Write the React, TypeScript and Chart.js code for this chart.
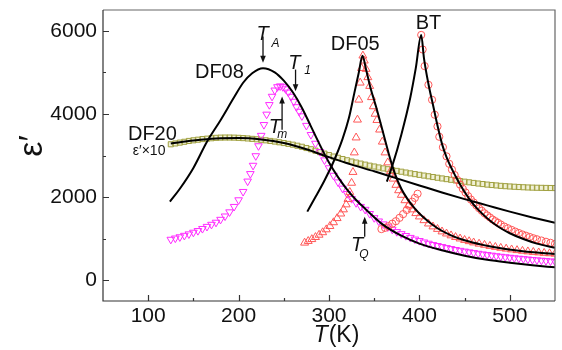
import { useEffect, useRef } from "react";
import { Chart, registerables } from "chart.js";

Chart.register(...registerables);

// ---------- axes ----------
const xTicks = [100, 200, 300, 400, 500];
const xMinor = [150, 250, 350, 450];
const yTicks = [0, 2000, 4000, 6000];
const yMinor = [1000, 3000, 5000];

// ---------- DF20 (olive squares, ε'×10) ----------
const df20T = [125,130,135,140,145,150,155,160,165,170,175,180,185,190,195,200,205,210,215,220,225,230,235,240,245,250,255,260,265,270,275,280,285,290,295,300,305,310,315,320,325,330,335,340,345,350,355,360,365,370,375,380,385,390,395,400,405,410,415,420,425,430,435,440,445,450,455,460,465,470,475,480,485,490,495,500,505,510,515,520,525,530,535,540,545,550];
const df20E = [3270,3290,3310,3330,3350,3365,3380,3395,3405,3415,3425,3430,3432,3432,3430,3425,3418,3410,3400,3390,3378,3365,3350,3335,3318,3300,3280,3260,3235,3210,3180,3150,3115,3080,3045,3010,2975,2945,2915,2885,2855,2830,2805,2780,2755,2735,2712,2690,2670,2650,2630,2610,2590,2570,2552,2535,2517,2500,2482,2465,2448,2432,2416,2400,2385,2370,2355,2340,2326,2313,2300,2290,2280,2270,2262,2255,2248,2242,2236,2231,2227,2224,2222,2220,2218,2217];
const df20FitT = [125,150,175,200,225,250,275,300,325,350,375,400,425,450,475,500,525,550];
const df20FitE = [3290,3360,3410,3420,3385,3300,3150,2960,2780,2620,2450,2280,2110,1950,1800,1650,1510,1380];

// ---------- DF08 (magenta down-triangles) ----------
const df08T = [125,130,135,140,145,150,155,160,165,170,175,180,185,190,195,200,205,210,213,216,219,222,225,228,231,234,237,240,243,246,249,252,255,258,261,264,267,270,275,280,285,290,295,300,305,310,315,320,325,330,335,340,345,350,355,360,365,370,375,380,385,390,395,400,405,410,415,420,425,430,435,440,445,450,455,460,465,470,475,480,485,490,495,500,505,510,515,520,525,530,535,540,545,550];
const df08E = [980,1010,1040,1075,1110,1150,1190,1240,1290,1340,1390,1460,1540,1640,1770,1930,2130,2380,2560,2760,2990,3230,3480,3740,3990,4220,4420,4570,4650,4670,4650,4600,4520,4420,4300,4170,4060,3950,3720,3500,3290,3090,2890,2700,2520,2360,2210,2080,1960,1860,1770,1700,1600,1500,1420,1350,1280,1220,1165,1115,1070,1025,985,950,915,885,855,830,805,780,757,734,714,695,677,660,643,627,612,598,584,571,559,547,535,524,514,504,494,485,476,467,458,450];
const df08FitT = [124,135,150,165,180,195,205,215,227,240,250,260,270,280,290,300,310,320,330,340,360,380,400,425,450,475,500,525,550];
const df08FitE = [1890,2200,2700,3330,3850,4400,4750,4980,5100,5000,4800,4520,4150,3700,3250,2830,2480,2180,1930,1720,1330,1070,880,720,590,490,420,360,310];

// ---------- DF05 (red up-triangles) ----------
const df05T = [273,277,281,285,289,293,297,301,305,309,313,316,319,321,323,325,326.5,328,330,331.5,333,334.5,336,337.5,339,341,343,345,347,349,351,353,356,359,362,365,368,371,374,377,380,384,388,392,396,400,405,410,415,420,425,430,435,440,445,450,455,460,466,472,478,484,490,496,502,508,514,520,526,532,538,544,550];
const df05E = [900,940,985,1035,1090,1150,1220,1300,1390,1490,1600,1700,1820,1950,2120,2340,2600,3070,3430,3860,4340,4750,5100,5400,5280,5080,4880,4670,4400,4180,4000,3850,3620,3330,3070,2830,2620,2440,2290,2160,2050,1920,1800,1700,1610,1530,1440,1360,1290,1230,1170,1120,1075,1035,1000,965,935,905,875,848,822,798,776,756,737,720,704,690,677,665,654,644,635];
const df05FitT = [276,285,295,305,315,322,328,333,337,341,346,352,359,366,373,380,386,395,405,420,435,450,470,490,510,530,550];
const df05FitE = [1650,2000,2400,2850,3400,3900,4500,5000,5400,5070,4620,4180,3620,3050,2560,2200,1980,1720,1500,1250,1080,960,850,770,710,665,630];

// ---------- BT (red circles) ----------
const btT = [358,362,366,370,374,378,382,386,389,392,395,398,402,403.6,405.8,410,414,417,420,422,426,430,433,436,439,442,445,448,451,454,457,460,463,466,469,472,475,478,481,484,487,490,494,498,502,506,510,514,518,522,526,530,535,540,545,550];
const btE = [1230,1260,1300,1360,1420,1500,1590,1690,1790,1890,1980,2080,5900,5550,5150,4700,4340,3980,3700,3450,3200,2980,2800,2660,2530,2410,2300,2200,2110,2020,1940,1870,1800,1730,1670,1610,1560,1510,1460,1420,1380,1340,1290,1250,1210,1170,1135,1100,1070,1040,1010,985,955,925,900,875];
const btFitT = [364,370,380,390,396,402,405,410,415,420,425,430,440,450,460,470,480,490,500,515,530,550];
const btFitE = [2370,2750,3500,4400,5100,5900,5350,4720,4220,3720,3280,2960,2500,2120,1820,1590,1400,1250,1130,990,880,780];

// ---------- annotations (data units) ----------
const seriesLabels = [
  { text: "DF08", T: 151.7, eps: 4875, size: 20 },
  { text: "DF05", T: 302, eps: 5549, size: 20 },
  { text: "BT", T: 396, eps: 6031, size: 20 },
  { text: "DF20", T: 77.6, eps: 3381, size: 20 },
  { text: "ε′×10", T: 83, eps: 3019, size: 14 },
];
// arrows: x position (T), tail eps, head eps, label with subscript
const arrowMarks = [
  { sub: "A", T: 227, from: 5860, to: 5230, labelEps: 5790, dx: -0.5, subDx: 4, subDy: 7 },
  { sub: "1", T: 263, from: 5067, to: 4545, labelEps: 5090, dx: -1.2, subDx: 5, subDy: 5 },
  { sub: "m", T: 248.1, from: 3622, to: 4417, labelEps: 3550, dx: -7.3, subDx: -2.5, subDy: 5 },
  { sub: "Q", T: 339.5, from: 1043, to: 1525, labelEps: 709, dx: -7.5, subDx: -3, subDy: 7 },
];

const pts = (t: number[], e: number[]) => t.map((v, i) => ({ x: v, y: e[i] }));

const FONT = "'Liberation Sans', Arial, sans-serif";

const overlay = {
  id: "overlay",
  afterDraw(chart: any) {
    const { ctx, chartArea: a } = chart;
    const x = chart.scales.x;
    const y = chart.scales.y;
    ctx.save();
    // frame
    ctx.lineWidth = 1.2;
    ctx.strokeStyle = "#666";
    ctx.beginPath();
    ctx.moveTo(a.left, a.top); ctx.lineTo(a.right, a.top); ctx.lineTo(a.right, a.bottom);
    ctx.stroke();
    ctx.strokeStyle = "#333";
    ctx.beginPath();
    ctx.moveTo(a.left, a.top); ctx.lineTo(a.left, a.bottom); ctx.lineTo(a.right, a.bottom);
    ctx.stroke();
    // inside ticks
    ctx.beginPath();
    for (const v of xTicks) {
      const px = Math.round(x.getPixelForValue(v)) + 0.5;
      ctx.moveTo(px, a.bottom); ctx.lineTo(px, a.bottom - 6);
    }
    for (const v of xMinor) {
      const px = Math.round(x.getPixelForValue(v)) + 0.5;
      ctx.moveTo(px, a.bottom); ctx.lineTo(px, a.bottom - 3);
    }
    for (const v of yTicks) {
      const py = Math.round(y.getPixelForValue(v)) + 0.5;
      ctx.moveTo(a.left, py); ctx.lineTo(a.left + 6, py);
    }
    for (const v of yMinor) {
      const py = Math.round(y.getPixelForValue(v)) + 0.5;
      ctx.moveTo(a.left, py); ctx.lineTo(a.left + 3, py);
    }
    ctx.stroke();

    ctx.fillStyle = "#111";
    ctx.textBaseline = "alphabetic";
    // series labels
    for (const l of seriesLabels) {
      ctx.font = `${l.size}px ${FONT}`;
      ctx.textAlign = "left";
      ctx.fillText(l.text, x.getPixelForValue(l.T), y.getPixelForValue(l.eps));
    }
    // arrows with T_x labels
    ctx.strokeStyle = "#111";
    ctx.lineWidth = 1.3;
    for (const m of arrowMarks) {
      const px = x.getPixelForValue(m.T);
      const p0 = y.getPixelForValue(m.from);
      const p1 = y.getPixelForValue(m.to);
      const dir = p1 > p0 ? 1 : -1;
      ctx.beginPath();
      ctx.moveTo(px, p0);
      ctx.lineTo(px, p1 - dir * 5);
      ctx.stroke();
      ctx.beginPath();
      ctx.moveTo(px, p1);
      ctx.lineTo(px - 2.8, p1 - dir * 7);
      ctx.lineTo(px + 2.8, p1 - dir * 7);
      ctx.closePath();
      ctx.fill();
      const ly = y.getPixelForValue(m.labelEps);
      ctx.font = `italic 20px ${FONT}`;
      ctx.textAlign = "center";
      const tx = px + m.dx;
      ctx.fillText("T", tx, ly);
      ctx.font = `italic 12px ${FONT}`;
      ctx.textAlign = "left";
      ctx.fillText(m.sub, tx + 5 + m.subDx, ly + m.subDy);
    }
    // x title: T(K)
    const cx = (a.left + a.right) / 2 + 7;
    ctx.font = `italic 23px ${FONT}`;
    const wT = ctx.measureText("T").width;
    ctx.font = `23px ${FONT}`;
    const wK = ctx.measureText("(K)").width;
    const sx = cx - (wT + wK) / 2;
    ctx.textAlign = "left";
    ctx.font = `italic 23px ${FONT}`;
    ctx.fillText("T", sx, a.bottom + 41);
    ctx.font = `23px ${FONT}`;
    ctx.fillText("(K)", sx + wT + 1, a.bottom + 41);
    // y title
    ctx.translate(a.left - 70, a.top + 136);
    ctx.rotate(-Math.PI / 2);
    ctx.font = `34px ${FONT}`;
    ctx.textAlign = "center";
    ctx.textBaseline = "middle";
    ctx.fillText("ε′", 0, 0);
    ctx.restore();
  },
};

export default function App() {
  const ref = useRef<HTMLCanvasElement | null>(null);
  useEffect(() => {
    if (!ref.current) return;
    const red = "#ff5757";
    const line = (t: number[], e: number[]) => ({
      data: pts(t, e),
      showLine: true,
      borderColor: "#000",
      borderWidth: 2,
      pointRadius: 0,
      cubicInterpolationMode: "monotone" as const,
      fill: false,
    });
    const chart = new Chart(ref.current, {
      type: "scatter",
      data: {
        datasets: [
          line(df08FitT, df08FitE),
          line(df05FitT, df05FitE),
          line(btFitT, btFitE),
          line(df20FitT, df20FitE),
          {
            data: pts(btT, btE),
            pointStyle: "circle",
            pointRadius: 3.6,
            borderWidth: 1,
            borderColor: red,
            backgroundColor: "rgba(255,255,255,0)",
          },
          {
            data: pts(df05T, df05E),
            pointStyle: "triangle",
            pointRadius: 4.6,
            borderWidth: 1,
            borderColor: red,
            backgroundColor: "rgba(255,255,255,0)",
          },
          {
            data: pts(df08T, df08E),
            pointStyle: "triangle",
            rotation: 180,
            pointRadius: 4.4,
            borderWidth: 1,
            borderColor: "#ff2bff",
            backgroundColor: "rgba(255,255,255,0)",
          },
          {
            data: pts(df20T, df20E),
            pointStyle: "rect",
            pointRadius: 3.6,
            borderWidth: 1,
            borderColor: "#a0a040",
            backgroundColor: "rgba(215,215,140,0.35)",
          },
        ],
      },
      options: {
        animation: false,
        responsive: true,
        maintainAspectRatio: false,
        events: [],
        layout: { padding: { top: 10, right: 7, left: 0, bottom: 0 } },
        plugins: { legend: { display: false }, tooltip: { enabled: false } },
        scales: {
          x: {
            type: "linear",
            min: 50,
            max: 550,
            grid: { display: false, drawTicks: false },
            border: { display: false },
            afterBuildTicks: (s: any) => { s.ticks = xTicks.map((v) => ({ value: v })); },
            afterFit: (s: any) => { s.height = 49; s.paddingLeft = 0; s.paddingRight = 0; },
            ticks: {
              padding: 3,
              maxRotation: 0,
              autoSkip: false,
              color: "#111",
              font: { family: FONT, size: 21 },
              callback: (v: any) => String(v),
            },
          },
          y: {
            type: "linear",
            min: -500,
            max: 6500,
            grid: { display: false, drawTicks: false },
            border: { display: false },
            afterBuildTicks: (s: any) => { s.ticks = yTicks.map((v) => ({ value: v })); },
            afterFit: (s: any) => { s.width = 103; s.paddingTop = 0; s.paddingBottom = 0; },
            ticks: {
              padding: 6,
              autoSkip: false,
              color: "#111",
              font: { family: FONT, size: 21 },
              callback: (v: any) => String(v),
            },
          },
        },
      },
      plugins: [overlay],
    });
    return () => chart.destroy();
  }, []);
  return (
    <div style={{ position: "fixed", left: 0, top: 0, width: 562, height: 350, background: "#fff" }}>
      <canvas ref={ref} />
    </div>
  );
}
